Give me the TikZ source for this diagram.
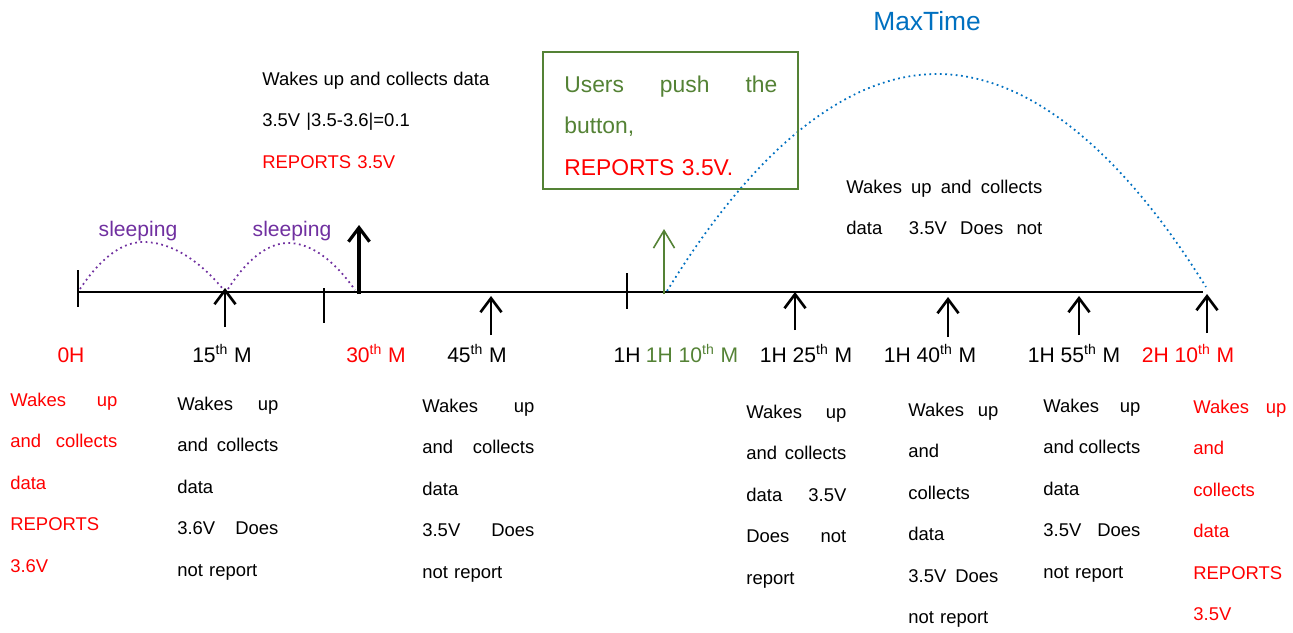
\documentclass[tikz,border=0pt]{standalone}
\usepackage{fontspec}
\setmainfont{Liberation Sans}
\usepackage{xcolor}
\usetikzlibrary{arrows.meta}
\definecolor{pushgreen}{RGB}{84,130,53}
\definecolor{maxblue}{RGB}{0,112,192}
\definecolor{sleeppurple}{RGB}{112,48,160}
\newcommand{\jl}[2]{\makebox[#1][l]{#2}}
\newcommand{\tsup}{\textsuperscript{th}}

\begin{document}
\begin{tikzpicture}[x=0.02cm, y=-0.02cm,
    body/.style={font=\fontsize{10.5}{23.64}\selectfont, anchor=base west, inner sep=0pt, align=left},
    timelabel/.style={font=\fontsize{12}{14}\selectfont, anchor=base, inner sep=0pt},
    evarrow/.style={-{Straight Barb[length=8pt,width=12pt]}, line width=1.5pt},
    tick/.style={line width=0.6pt},
    sleeparc/.style={sleeppurple, dotted, line width=1pt}]
    \useasboundingbox (0,0) rectangle (1293,632);

    % time axis
    \coordinate (start) at (78,292);
    \coordinate (end) at (1203,292);
    \draw[line width=0.9pt] (start) -- (end);
    \draw[tick] (78,270) -- (78,307);
    \draw[tick] (324,288) -- (324,323);
    \draw[tick] (627,273) -- (627,309);

    % wake-up arrows
    \foreach \n/\x/\yb/\yt in {15/225/327/288, 45/491/335/296, 85/795/330/292, 100/948/337/297, 115/1079/335/296, 130/1207/333/294} {
        \coordinate (foot\n) at (\x,\yb);
        \coordinate (tip\n) at (\x,\yt);
        \draw[evarrow] (foot\n) -- (tip\n);
    }
    \coordinate (foot30) at (359,294);
    \coordinate (tip30) at (359,225);
    \draw[evarrow, line width=1.8pt] (foot30) -- (tip30);
    \coordinate (foot70) at (664,294);
    \coordinate (tip70) at (664,229);
    \draw[pushgreen, line width=0.9pt, -{Straight Barb[length=10pt,width=12pt]}] (foot70) -- (tip70);

    % sleeping arcs
    \coordinate (s0) at (80,289);
    \coordinate (s1) at (223,289);
    \coordinate (s2) at (228,289);
    \coordinate (s3) at (355,290);
    \draw[sleeparc] (s0) parabola bend (143,242) (s1);
    \draw[sleeparc] (s2) parabola bend (288,243) (s3);
    \node[font=\fontsize{12}{14}\selectfont, sleeppurple, anchor=base] (sleep1) at (138,236) {sleeping};
    \node[font=\fontsize{12}{14}\selectfont, sleeppurple, anchor=base] (sleep2) at (292,236) {sleeping};

    % max time arc
    \coordinate (m0) at (667,291);
    \coordinate (m1) at (1206,287);
    \draw[maxblue, dotted, line width=1pt] (m0) parabola bend (937,74) (m1);
    \node[font=\fontsize{15}{18}\selectfont, maxblue, anchor=base west, inner sep=0pt] (maxtime) at (873,31) {MaxTime};

    % time labels
    \node[timelabel, red] (l0) at (71,362) {0H};
    \node[timelabel] (l15) at (222,362) {15\tsup{} M};
    \node[timelabel, red] (l30) at (376,362) {30\tsup{} M};
    \node[timelabel] (l45) at (477,362) {45\tsup{} M};
    \node[timelabel] (l60) at (627,362) {1H};
    \node[timelabel, pushgreen] (l70) at (692,362) {1H 10\tsup{} M};
    \node[timelabel] (l85) at (806,362) {1H 25\tsup{} M};
    \node[timelabel] (l100) at (930,362) {1H 40\tsup{} M};
    \node[timelabel] (l115) at (1074,362) {1H 55\tsup{} M};
    \node[timelabel, red] (l130) at (1188,362) {2H 10\tsup{} M};

    % notes above the axis
    \node[body, text width=4.54cm] (note30) at (262,85)
        {\jl{4.54cm}{Wakes\hfill up\hfill and\hfill collects\hfill data}\\ 3.5V |3.5-3.6|=0.1\\ \textcolor{red}{REPORTS 3.5V}};
    \node[draw=pushgreen, line width=1.2pt, minimum width=5.1cm, minimum height=2.74cm] (pushbox) at (670.5,120.5) {};
    \node[body, pushgreen, font=\fontsize{13}{23.8}\selectfont, text width=4.26cm] (pushtext) at (564,92)
        {\jl{4.26cm}{Users\hfill push\hfill the}\\ button,\\ \textcolor{red}{REPORTS 3.5V.}};
    \node[body, text width=3.92cm] (note85) at (846,193)
        {\jl{3.92cm}{Wakes\hfill up\hfill and\hfill collects}\\ \jl{3.92cm}{data\hfill\hfill 3.5V\hfill Does\hfill not}};

    % notes below the axis
    \node[body, red, text width=2.14cm] (c0) at (10,406)
        {\jl{2.14cm}{Wakes\hfill up}\\ \jl{2.14cm}{and\hfill collects}\\ data\\ REPORTS\\ 3.6V};
    \node[body, text width=2.02cm] (c15) at (177,410)
        {\jl{2.02cm}{Wakes\hfill up}\\ \jl{2.02cm}{and\hfill collects}\\ data\\ \jl{2.02cm}{3.6V\hfill Does}\\ not report};
    \node[body, text width=2.24cm] (c45) at (422,412)
        {\jl{2.24cm}{Wakes\hfill up}\\ \jl{2.24cm}{and\hfill collects}\\ data\\ \jl{2.24cm}{3.5V\hfill Does}\\ not report};
    \node[body, text width=2.0cm] (c85) at (746,418)
        {\jl{2.0cm}{Wakes\hfill up}\\ \jl{2.0cm}{and\hfill collects}\\ \jl{2.0cm}{data\hfill 3.5V}\\ \jl{2.0cm}{Does\hfill not}\\ report};
    \node[body, text width=1.8cm] (c100) at (908,416)
        {\jl{1.8cm}{Wakes\hfill up}\\ and\\ collects\\ data\\ \jl{1.8cm}{3.5V\hfill Does}\\ not report};
    \node[body, text width=1.94cm] (c115) at (1043,412)
        {\jl{1.94cm}{Wakes\hfill up}\\ \jl{1.94cm}{and\hfill collects}\\ data\\ \jl{1.94cm}{3.5V\hfill Does}\\ not report};
    \node[body, red, text width=1.86cm] (c130) at (1193,413)
        {\jl{1.86cm}{Wakes\hfill up}\\ and\\ collects\\ data\\ REPORTS\\ 3.5V};
\end{tikzpicture}
\end{document}
